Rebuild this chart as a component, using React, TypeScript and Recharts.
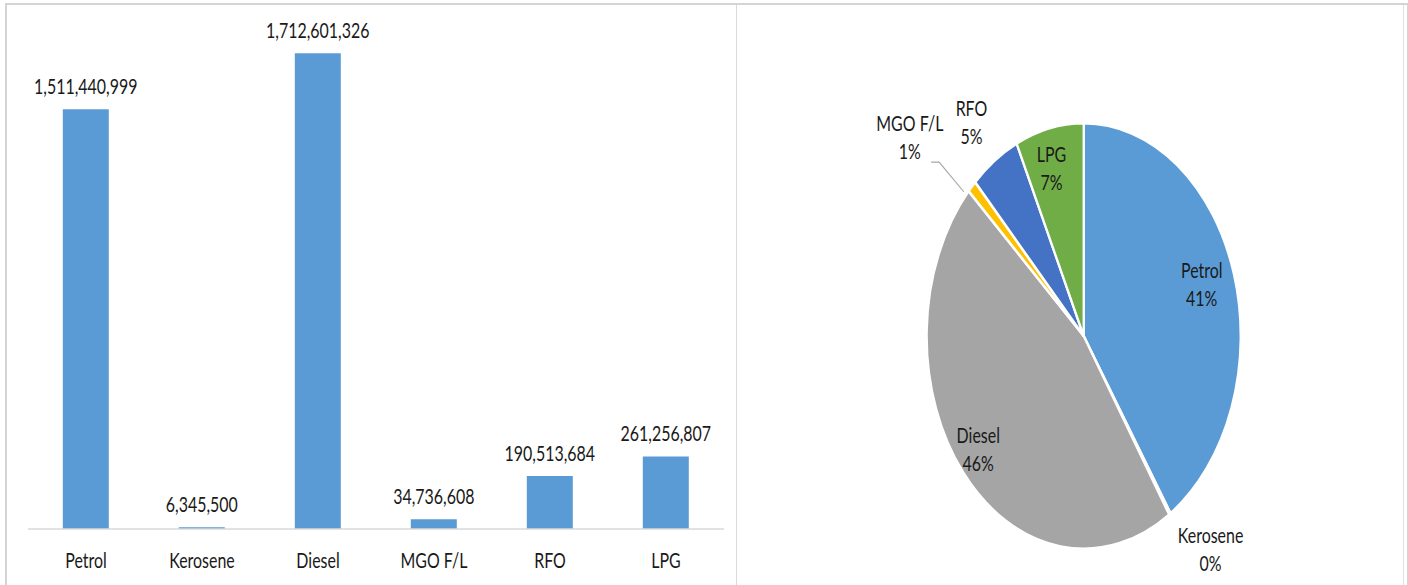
import * as React from 'react'
import { BarChart, Bar, XAxis, YAxis, LabelList, PieChart, Pie, Cell } from 'recharts'

const products = ['Petrol', 'Kerosene', 'Diesel', 'MGO F/L', 'RFO', 'LPG']
const litres = [1511440999, 6345500, 1712601326, 34736608, 190513684, 261256807]
const sliceColors = ['#5B9BD5', '#ED7D31', '#A5A5A5', '#FFC000', '#4472C4', '#70AD47']
const barColor = '#5B9BD5'
const yMax = 1800000000

const rows = products.map((name, i) => ({ name, value: litres[i] }))

const FONT = "Lato, 'Open Sans', sans-serif"
const TEXT = '#1a1a1a'
const SIZE = 21
// text in the reference is narrow, so squash it a bit
const TX = 0.76
// the pie in the reference is squeezed sideways, so draw it round and squash it
const SX = 0.737
const PIE_W = 600
const PIE_CX = 1080

// where each pie label sits: fraction of the radius and a small turn in degrees
const labelSpot: Record<string, { r: number; rot: number }> = {
  Petrol: { r: 0.79, rot: 1 },
  Kerosene: { r: 1.29, rot: 5.5 },
  Diesel: { r: 0.86, rot: -1.4 },
  'MGO F/L': { r: 1.445, rot: 4.6 },
  RFO: { r: 1.23, rot: 1 },
  LPG: { r: 0.81, rot: 2 }
}

const RAD = Math.PI / 180

function Narrow({ x, y, k, children }: { x: number; y: number; k: number; children: React.ReactNode }) {
  return (
    <text
      x={x}
      y={y}
      textAnchor='middle'
      fontFamily={FONT}
      fontSize={SIZE}
      fill={TEXT}
      transform={`translate(${x} 0) scale(${k} 1) translate(${-x} 0)`}
    >
      {children}
    </text>
  )
}

function AxisTick(props: any) {
  const { x, y, payload } = props
  return (
    <Narrow x={x} y={y + 39} k={TX}>
      {payload.value}
    </Narrow>
  )
}

function BarValue(props: any) {
  const { x, y, width, value } = props
  return (
    <Narrow x={x + width / 2} y={y - 15} k={TX}>
      {Number(value).toLocaleString('en-US')}
    </Narrow>
  )
}

function PieLabel(props: any) {
  const { cx, cy, midAngle, outerRadius, percent, name } = props
  const spot = labelSpot[name] || { r: 1.2, rot: 0 }
  const a = (midAngle + spot.rot) * RAD
  const x = cx + outerRadius * spot.r * Math.cos(a)
  const y = cy - outerRadius * spot.r * Math.sin(a)
  let leader = null
  if (name === 'MGO F/L') {
    const b = (midAngle + 3) * RAD
    const x1 = cx + outerRadius * 1.02 * Math.cos(b)
    const y1 = cy - outerRadius * 1.02 * Math.sin(b)
    const x2 = cx + outerRadius * 1.23 * Math.cos(b)
    const y2 = cy - outerRadius * 1.23 * Math.sin(b)
    leader = (
      <polyline
        points={`${x1},${y1} ${x2},${y2} ${x2 - 11},${y2}`}
        fill='none'
        stroke='#a6a6a6'
        strokeWidth={1.3}
      />
    )
  }
  return (
    <g>
      {leader}
      <Narrow x={x} y={y - 7} k={TX / SX}>
        {name}
      </Narrow>
      <Narrow x={x} y={y + 21} k={TX / SX}>
        {`${Math.round(percent * 100)}%`}
      </Narrow>
    </g>
  )
}

export default function App() {
  return (
    <div
      style={{
        position: 'absolute',
        left: 0,
        top: 0,
        width: 1408,
        height: 585,
        background: '#fff',
        overflow: 'hidden'
      }}
    >
      {/* panel frames */}
      <div
        style={{
          position: 'absolute',
          left: 5,
          top: 3,
          width: 1400,
          height: 600,
          border: '2px solid #d4d4d4'
        }}
      />
      <div style={{ position: 'absolute', left: 736, top: 5, width: 1, height: 590, background: '#d9d9d9' }} />
      <div style={{ position: 'absolute', left: 1403, top: 5, width: 1, height: 590, background: '#e0e0e0' }} />

      <div style={{ position: 'absolute', left: 8, top: 0 }}>
        <BarChart
          width={726}
          height={585}
          data={rows}
          margin={{ top: 29, right: 10, bottom: 16, left: 20 }}
          barCategoryGap='30%'
        >
          <YAxis hide domain={[0, yMax]} />
          <XAxis
            dataKey='name'
            height={40}
            axisLine={{ stroke: '#d9d9d9', strokeWidth: 1.5 }}
            tickLine={false}
            tickSize={0}
            tickMargin={0}
            tick={<AxisTick />}
            interval={0}
          />
          <Bar dataKey='value' fill={barColor} isAnimationActive={false}>
            <LabelList dataKey='value' content={<BarValue />} />
          </Bar>
        </BarChart>
      </div>

      <div
        style={{
          position: 'absolute',
          left: PIE_CX - PIE_W / 2,
          top: 0,
          width: PIE_W,
          height: 585,
          transform: `scaleX(${SX})`,
          transformOrigin: `${PIE_W / 2}px 0`
        }}
      >
        <PieChart width={PIE_W} height={585}>
          <Pie
            data={rows}
            dataKey='value'
            nameKey='name'
            cx={PIE_W / 2}
            cy={331}
            outerRadius={213}
            startAngle={90}
            endAngle={-270}
            stroke='#fff'
            strokeWidth={3}
            label={PieLabel}
            labelLine={false}
            isAnimationActive={false}
          >
            {rows.map((r, i) => (
              <Cell key={r.name} fill={sliceColors[i]} />
            ))}
          </Pie>
        </PieChart>
      </div>
    </div>
  )
}
